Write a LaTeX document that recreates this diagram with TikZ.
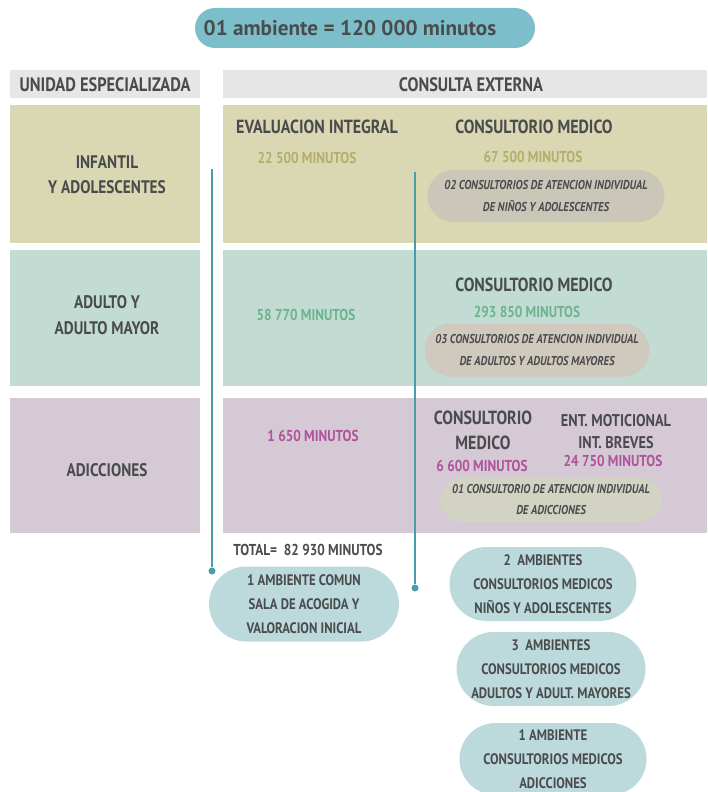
\documentclass[tikz,border=0pt]{standalone}
\usepackage{fontspec}
\setmainfont{PT Sans}[FakeStretch=0.84]
\newfontfamily\titlefont{PT Sans}
\usetikzlibrary{shapes.misc}

\definecolor{tealpill}{HTML}{7CBFCB}
\definecolor{headgray}{HTML}{E6E6E6}
\definecolor{olivecell}{HTML}{D9D8B2}
\definecolor{greencell}{HTML}{C2DCD3}
\definecolor{mauvecell}{HTML}{D4C9D4}
\definecolor{graypillA}{HTML}{CAC7B8}
\definecolor{graypillB}{HTML}{D0C9BE}
\definecolor{graypillC}{HTML}{D3D3C3}
\definecolor{bluepill}{HTML}{BCD9DC}
\definecolor{linecol}{HTML}{4A9DAA}
\definecolor{darktext}{HTML}{4A4B4D}
\definecolor{olivetext}{HTML}{B3AE6A}
\definecolor{greentext}{HTML}{6CB38E}
\definecolor{magtext}{HTML}{B0529C}

\begin{document}
\begin{tikzpicture}[x=1pt,y=-1pt,
	every node/.style={text=darktext, font=\bfseries},
	cell/.style={anchor=north west, inner sep=0pt, outer sep=0pt},
	pill/.style={rounded rectangle, inner sep=0pt, align=center},
	head/.style={font=\fontsize{19.5}{21}\selectfont\bfseries},
	rowlabel/.style={align=center, font=\fontsize{18.2}{25}\selectfont\bfseries},
	section/.style={align=center, font=\fontsize{19}{25}\selectfont\bfseries},
	mins/.style={font=\fontsize{15.8}{17}\selectfont\bfseries},
	note/.style={pill, font=\fontsize{12.8}{22}\selectfont\bfseries\itshape},
	room/.style={pill, fill=bluepill, font=\fontsize{15.2}{24}\selectfont\bfseries},
	dot/.style={circle, fill=linecol, inner sep=0pt, minimum size=7pt}]
\useasboundingbox (0,0) rectangle (707,792);

\node [pill, fill=tealpill, minimum width=340pt, minimum height=40pt] (title) at (365,28) {};
\node [font=\titlefont\fontsize{21.2}{23}\selectfont\bfseries] (titletxt) at (350,28) {01 ambiente = 120 000 minutos};

% column headers
\node [cell, fill=headgray, minimum width=190pt, minimum height=28pt] (unidad) at (10,70) {};
\node [head] (unidadtxt) at (105,85) {UNIDAD ESPECIALIZADA};
\node [cell, fill=headgray, minimum width=484pt, minimum height=28pt] (consulta) at (223,70) {};
\node [head] (consultatxt) at (471,85) {CONSULTA EXTERNA};

% rows
\node [cell, fill=olivecell, minimum width=190pt, minimum height=138pt] (infL) at (10,105) {};
\node [cell, fill=olivecell, minimum width=484pt, minimum height=138pt] (infR) at (223,105) {};
\node [cell, fill=greencell, minimum width=190pt, minimum height=136pt] (adL) at (10,250) {};
\node [cell, fill=greencell, minimum width=484pt, minimum height=136pt] (adR) at (223,250) {};
\node [cell, fill=mauvecell, minimum width=190pt, minimum height=135pt] (addL) at (10,398) {};
\node [cell, fill=mauvecell, minimum width=484pt, minimum height=135pt] (addR) at (223,398) {};

\node [rowlabel] (inftxt) at (107,175) {INFANTIL\\Y ADOLESCENTES};
\node [rowlabel, font=\fontsize{18.2}{26}\selectfont\bfseries] (adtxt) at (107,315) {ADULTO Y\\ADULTO MAYOR};
\node [rowlabel] (addtxt) at (107,470) {ADICCIONES};

% infantil y adolescentes
\node [section] (evaltxt) at (317,127) {EVALUACION INTEGRAL};
\node [section] (consA) at (534,127) {CONSULTORIO MEDICO};
\node [mins, text=olivetext] (minA1) at (307,158) {22 500 MINUTOS};
\node [mins, text=olivetext] (minA2) at (533,157) {67 500 MINUTOS};
\node [note, fill=graypillA, minimum width=237pt, minimum height=52pt] (noteA) at (546,196)
	{02 CONSULTORIOS DE ATENCION INDIVIDUAL\\DE NIÑOS Y ADOLESCENTES};

% adulto y adulto mayor
\node [mins, text=greentext] (minB1) at (306,315) {58 770 MINUTOS};
\node [section] (consB) at (534,285) {CONSULTORIO MEDICO};
\node [mins, text=greentext] (minB2) at (527,312) {293 850 MINUTOS};
\node [note, fill=graypillB, minimum width=225pt, minimum height=53pt] (noteB) at (537,350)
	{03 CONSULTORIOS DE ATENCION INDIVIDUAL\\DE ADULTOS Y ADULTOS MAYORES};

% adicciones
\node [mins, text=magtext] (minC1) at (313,436) {1 650 MINUTOS};
\node [section] (consC) at (483,430) {CONSULTORIO\\MEDICO};
\node [mins, text=magtext] (minC2) at (482,466) {6 600 MINUTOS};
\node [section, font=\fontsize{17}{22}\selectfont\bfseries] (entC) at (616,432) {ENT. MOTICIONAL\\INT. BREVES};
\node [mins, text=magtext, inner sep=1pt] (minC3) at (613,461) {24 750 MINUTOS};
\node [note, fill=graypillC, minimum width=222pt, minimum height=44pt,
	font=\fontsize{12.8}{21}\selectfont\bfseries\itshape] (noteC) at (551,500)
	{01 CONSULTORIO DE ATENCION INDIVIDUAL\\DE ADICCIONES};

\node [mins] (total) at (308,550) {TOTAL=\ \ 82 930 MINUTOS};

% ambientes
\node [room, minimum width=190pt, minimum height=75pt] (comun) at (304,604)
	{1 AMBIENTE COMUN\\SALA DE ACOGIDA Y\\VALORACION INICIAL};
\node [room, minimum width=187pt, minimum height=74pt] (ambA) at (543,584)
	{2\ \ AMBIENTES\\CONSULTORIOS MEDICOS\\NIÑOS Y ADOLESCENTES};
\node [room, minimum width=187pt, minimum height=74pt] (ambB) at (551,669)
	{3\ \ AMBIENTES\\CONSULTORIOS MEDICOS\\ADULTOS Y ADULT. MAYORES};
\node [room, minimum width=187pt, minimum height=72pt] (ambC) at (553,759)
	{1 AMBIENTE\\CONSULTORIOS MEDICOS\\ADICCIONES};

% lines down to the ambientes
\coordinate (topA) at (212,169);
\node [dot] (dotA) at (212,571) {};
\draw [linecol, line width=2.2pt] (topA) -- (dotA);
\coordinate (topB) at (415,172);
\node [dot] (dotB) at (415,588) {};
\draw [linecol, line width=2.2pt] (topB) -- (dotB);
\end{tikzpicture}
\end{document}
